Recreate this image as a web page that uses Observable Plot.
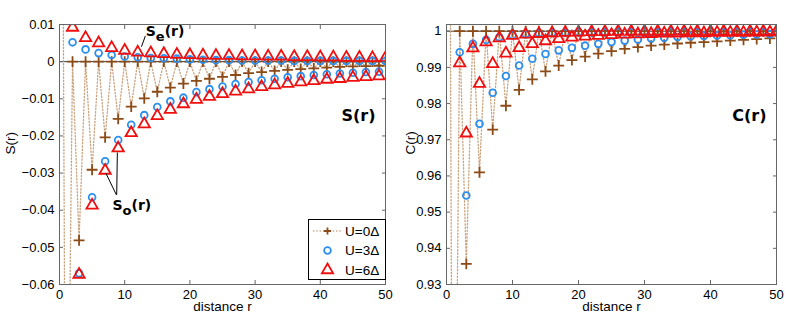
<!DOCTYPE html>
<html><head><meta charset="utf-8">
<script src="https://cdn.jsdelivr.net/npm/d3@7"></script>
<script src="https://cdn.jsdelivr.net/npm/@observablehq/plot@0.6"></script>
<style>
body{margin:0;background:#fff;}
#wrap{position:relative;width:789px;height:319px;display:flex;overflow:hidden;font-family:"Liberation Sans",Arial,sans-serif;}
#wrap svg{overflow:visible;}
</style></head><body><div id="wrap"></div>
<script>
// distance r
const r = [0,1,2,3,4,5,6,7,8,9,10,11,12,13,14,15,16,17,18,19,20,21,22,23,24,25,26,27,28,29,30,31,32,33,34,35,36,37,38,39,40,41,42,43,44,45,46,47,48,49,50];
const seriesNames = ["U=0\u0394","U=3\u0394","U=6\u0394"];
const xTicks = [0,10,20,30,40,50];
const sTicks = [-0.06,-0.05,-0.04,-0.03,-0.02,-0.01,0,0.01];
const cTicks = [0.93,0.94,0.95,0.96,0.97,0.98,0.99,1];

// S(r)
const sU0 = [0.25,-0.156,
 0,-0.0481,0,-0.0291,0,-0.0204,0,-0.0154,0,-0.0121,0,-0.0099,0,-0.0081,0,-0.0070,0,-0.0059,
 0,-0.0052,0,-0.0046,0,-0.0041,0,-0.0036,0,-0.0031,0,-0.0028,0,-0.0025,0,-0.0022,0,-0.0020,
 0,-0.0018,0,-0.0016,0,-0.0014,0,-0.0013,0,-0.0012,0,-0.0011,0];
const sU3 = [null,null,
 0.0052,-0.0570,0.0033,-0.0365,0.0023,-0.0268,0.0018,-0.0211,0.0014,-0.0170,0.0012,-0.0144,0.0010,-0.0122,0.0009,-0.0107,0.0008,-0.0097,
 0.0006,-0.0082,0.0005,-0.0074,0.0004,-0.0067,0.0004,-0.0060,0.0003,-0.0055,0.0003,-0.0050,0.0003,-0.0046,0.0003,-0.0042,0.0002,-0.0039,
 0.0002,-0.0036,0.0002,-0.0034,0.0002,-0.0032,0.0002,-0.0030,0.0002,-0.0028,0.0002,-0.0027,0.0002];
const sU6 = [null,null,
 0.0092,-0.0573,0.0064,-0.0387,0.0050,-0.0293,0.0037,-0.0233,0.0030,-0.0192,0.0025,-0.0168,0.0023,-0.0146,0.0021,-0.0129,0.0019,-0.0114,
 0.0018,-0.0102,0.0017,-0.0094,0.0016,-0.0087,0.0016,-0.0080,0.0015,-0.0074,0.0015,-0.0068,0.0014,-0.0063,0.0014,-0.0059,0.0013,-0.0055,
 0.0013,-0.0052,0.0012,-0.0048,0.0012,-0.0046,0.0011,-0.0043,0.0011,-0.0041,0.0010,-0.0039,0.0010];

// C(r)
const cU0 = [1.3,0.80,
 1,0.9357,1,0.9610,1,0.9728,1,0.9794,1,0.9838,1,0.9867,1,0.9889,1,0.9905,1,0.9920,
 1,0.9930,1,0.9938,1,0.9945,1,0.9951,1,0.9956,1,0.9960,1,0.9963,1,0.9966,1,0.9968,
 1,0.9970,1,0.9972,1,0.9974,1,0.9976,1,0.9978,1,0.9980,1];
const cU3 = [null,null,
 0.9942,0.9546,0.9965,0.9744,0.9976,0.9830,0.9983,0.9876,0.9989,0.9905,0.9992,0.9924,0.9994,0.9937,0.9995,0.9947,0.9996,0.9954,
 0.9997,0.9960,0.9997,0.9965,0.9997,0.9970,0.9998,0.9974,0.9998,0.9977,0.9998,0.9980,0.9998,0.9982,0.9998,0.9984,0.9998,0.9986,
 0.9998,0.9987,0.9998,0.9988,0.9998,0.9989,0.9998,0.9990,0.9998,0.9991,0.9998,0.9992,0.9998];
const cU6 = [null,null,
 0.9912,0.9718,0.9953,0.9855,0.9970,0.9910,0.9981,0.9939,0.9988,0.9954,0.9991,0.9965,0.9993,0.9973,0.9995,0.9979,0.9996,0.9983,
 0.9997,0.9986,0.9998,0.9988,0.9998,0.9990,0.9999,0.9991,0.9999,0.9992,0.9999,0.9993,0.9999,0.9994,0.9999,0.9994,0.9999,0.9995,
 0.9999,0.9995,0.9999,0.9996,0.9999,0.9996,0.9999,0.9996,0.9999,0.9997,0.9999,0.9997,0.9999];

const colU0 = "#8b4a16", colLine = "#c9a27e", colU3 = "#2b8ff0", colU6 = "#f00f0f";
const rows = vals => r.map((d,i)=>({r:d, v:vals[i]})).filter(d=>d.v!=null);
const fmt = d3.format("~g");
const wrap = document.getElementById("wrap");

function panel({width, ml, mr, yDomain, yTicks, ylabel, ylabelDx, base, big, v0, v3, v6}){
  return Plot.plot({
    width, height:319, marginLeft:ml, marginRight:mr, marginTop:24, marginBottom:35,
    x:{domain:[0,50]}, y:{domain:yDomain},
    style:{fontFamily:"'Liberation Sans', Arial, sans-serif", fontSize:"13px", color:"#000", background:"transparent"},
    marks:[
      Plot.ruleY([base],{stroke:"#3a3a3a", strokeWidth:1}),
      Plot.line(rows(v0),{x:"r", y:"v", stroke:colLine, strokeWidth:1.3, strokeDasharray:"1.3,2", clip:true}),
      Plot.dot(rows(v0),{x:"r", y:"v", symbol:"plus", stroke:colU0, r:3.6, strokeWidth:1.8, clip:true}),
      Plot.dot(rows(v3),{x:"r", y:"v", symbol:"circle", stroke:colU3, fill:"none", r:3.4, strokeWidth:1.8, clip:true}),
      Plot.dot(rows(v6),{x:"r", y:"v", symbol:"triangle", stroke:colU6, fill:"none", r:4.2, strokeWidth:1.8, clip:true}),
      Plot.frame({stroke:"#666"}),
      Plot.axisX({ticks:xTicks, tickSize:-4, tickPadding:9, tickFormat:fmt, label:null, stroke:"#666"}),
      Plot.axisX({anchor:"top", ticks:xTicks, tickSize:-4, tickFormat:()=>"", label:null, stroke:"#666"}),
      Plot.axisY({ticks:yTicks, tickSize:-4, tickPadding:9, tickFormat:fmt, label:null, stroke:"#666"}),
      Plot.axisY({anchor:"right", ticks:yTicks, tickSize:-4, tickFormat:()=>"", label:null, stroke:"#666"}),
      Plot.text(["distance r"],{frameAnchor:"bottom", dy:26, text:d=>d, fontSize:13.5}),
      Plot.text([ylabel],{frameAnchor:"left", dx:ylabelDx, rotate:-90, text:d=>d, fontSize:13.5}),
      Plot.text([big],{frameAnchor:"top-right", dx:-10, dy:96, lineAnchor:"bottom", textAnchor:"end", text:d=>d,
        fontFamily:"'DejaVu Sans', sans-serif", fontWeight:"bold", fontSize:16})
    ]
  });
}

const left = panel({width:400, ml:59, mr:15, yDomain:[-0.06,0.01], yTicks:sTicks, ylabel:"S(r)", ylabelDx:-49, base:0, big:"S(r)", v0:sU0, v3:sU3, v6:sU6});
const right = panel({width:389, ml:46, mr:13, yDomain:[0.93,1.00185], yTicks:cTicks, ylabel:"C(r)", ylabelDx:-36, base:1, big:"C(r)", v0:cU0, v3:cU3, v6:cU6});
wrap.appendChild(left);
wrap.appendChild(right);

// annotations S_e(r), S_o(r) on the left panel, placed with the panel's scales
const sx = left.scale("x"), sy = left.scale("y");
const svg = d3.select(left);
const ann = [
  {text:"S", sub:"e", x:13.3, y:0.0068, links:[[12.65,0.0039,13.25,0.0068]]},
  {text:"S", sub:"o", x:8.2, y:-0.0400, links:[[8.85,-0.0360,8.95,-0.0246],[8.8,-0.0360,7.2,-0.0302]]}
];
for (const a of ann){
  for (const l of a.links){
    svg.append("line").attr("x1",sx.apply(l[0])).attr("y1",sy.apply(l[1])).attr("x2",sx.apply(l[2])).attr("y2",sy.apply(l[3]))
      .attr("stroke","#000").attr("stroke-width",1);
  }
  const t = svg.append("text").attr("x",sx.apply(a.x)).attr("y",sy.apply(a.y)).attr("text-anchor","start")
    .attr("font-family","'DejaVu Sans', sans-serif").attr("font-weight","bold").attr("font-size",14);
  t.append("tspan").text(a.text);
  t.append("tspan").attr("dy",5).attr("font-size",13).text(a.sub);
  t.append("tspan").attr("dy",-5).text("(r)");
}

// legend
const leg = document.createElement("div");
leg.style.cssText = "position:absolute;left:308px;top:219px;width:76px;height:59px;border:1px solid #000;background:#fff;";
const ls = d3.select(leg).append("svg").attr("width",76).attr("height",59);
const marks = ["plus","circle","triangle"];
seriesNames.forEach((name,i)=>{
  const yy = 11 + i*19.5;
  if (i===0) ls.append("line").attr("x1",4).attr("x2",32).attr("y1",yy).attr("y2",yy)
    .attr("stroke",colLine).attr("stroke-width",1.3).attr("stroke-dasharray","1.3,2");
  const sym = d3.symbol().type(marks[i]==="circle"?d3.symbolCircle:d3.symbolTriangle)
    .size(marks[i]==="triangle"?55:36);
  ls.append("path").attr("d", marks[i]==="plus" ? "M-3.6,0H3.6M0,-3.6V3.6" : sym())
    .attr("transform",`translate(18.5,${yy})`).attr("fill","none")
    .attr("stroke",[colU0,colU3,colU6][i]).attr("stroke-width",1.8);
  ls.append("text").attr("x",36).attr("y",yy).attr("dy","0.35em").attr("font-size",13.5)
    .attr("font-family","'Liberation Sans', Arial, sans-serif").text(name);
});
wrap.appendChild(leg);
</script></body></html>
